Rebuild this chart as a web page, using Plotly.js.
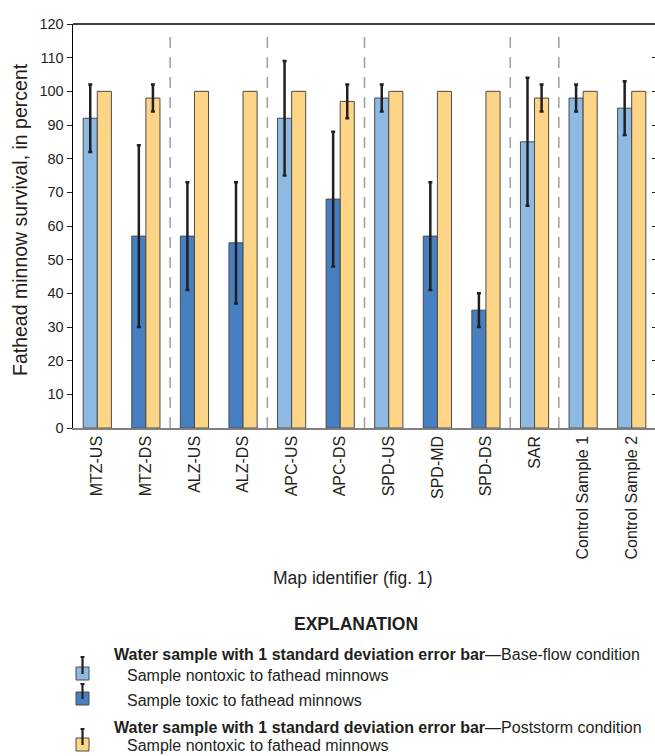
<!DOCTYPE html>
<html><head><meta charset="utf-8">
<script src="https://cdn.plot.ly/plotly-3.0.1.min.js"></script>
<style>html,body{margin:0;padding:0;overflow:hidden;background:#fff}#chart{width:658px;height:756px}</style>
</head><body><div id="chart"></div>
<script>
// ---- data ----
const categories = ["MTZ-US","MTZ-DS","ALZ-US","ALZ-DS","APC-US","APC-DS","SPD-US","SPD-MD","SPD-DS","SAR","Control Sample 1","Control Sample 2"];
const baseFlow = [92,57,57,55,92,68,98,57,35,85,98,95];
const baseFlowSD = [10,27,16,18,17,20,4,16,5,19,4,8];
const baseFlowToxic = [false,true,true,true,false,true,false,true,true,false,false,false];
const poststorm = [100,98,100,100,100,97,100,100,100,98,100,100];
const poststormSD = [null,4,null,null,null,5,null,null,null,4,null,null];
const siteGroupSizes = [2,2,2,3,1,2];
const yTickValues = [0,10,20,30,40,50,60,70,80,90,100,110,120];

// ---- styles ----
const FONT = '"Liberation Sans",Arial,sans-serif';
const LIGHT = '#8db9e2', DARK = '#4780c2', YELLOW = '#fed587', EDGE = '#4a4a4a', INK = '#231f20';
const PL = 73, PR = 656, PT = 24, PB = 428;
const px = x => (x - PL) / (PR - PL);
const py = y => (PB - y) / (PB - PT);

const traces = [
  {type:'bar', name:'Base-flow condition', x:categories, y:baseFlow,
   marker:{color: baseFlowToxic.map(t => t ? DARK : LIGHT), line:{color:EDGE, width:1}},
   error_y:{type:'data', array:baseFlowSD, color:INK, thickness:2.5, width:2}},
  {type:'bar', name:'Poststorm condition', x:categories, y:poststorm,
   marker:{color:YELLOW, line:{color:EDGE, width:1}},
   error_y:{type:'data', array:poststormSD.map(v => v === null ? NaN : v), color:INK, thickness:2.5, width:2}},
  // right-side mirrored inward ticks
  {type:'scatter', x:[categories[0]], y:[0], yaxis:'y2', mode:'markers', marker:{opacity:0}, hoverinfo:'skip', showlegend:false}
];

// separators between site groups
const shapes = [];
let idx = 0;
siteGroupSizes.slice(0, -1).forEach(n => {
  idx += n;
  shapes.push({type:'line', xref:'x', yref:'y', x0:idx - 0.5, x1:idx - 0.5, y0:0, y1:117.4,
    line:{color:'#a3a3a3', width:1.6, dash:'11px,9px'}, layer:'below'});
});
// top frame line
shapes.push({type:'line', xref:'paper', yref:'paper', x0:0, x1:1, y0:1, y1:1, line:{color:'#000', width:1.5}});

// legend icons
function icon(fill, top, sqTop) {
  shapes.push({type:'rect', xref:'paper', yref:'paper', x0:px(76), x1:px(89), y0:py(sqTop), y1:py(sqTop + 13),
    fillcolor:fill, line:{color:EDGE, width:1}});
  shapes.push({type:'line', xref:'paper', yref:'paper', x0:px(82.5), x1:px(82.5), y0:py(top), y1:py(sqTop + 7),
    line:{color:INK, width:2.2}});
  shapes.push({type:'line', xref:'paper', yref:'paper', x0:px(80.5), x1:px(84.5), y0:py(top), y1:py(top),
    line:{color:INK, width:2}});
}
icon(LIGHT, 657, 667);
icon(DARK, 684, 692);
icon(YELLOW, 729, 738);

const textFont = {family:FONT, size:16, color:'#231f20'};
const annotations = [
  {text:'Map identifier (fig. 1)', x:px(353), y:py(578), xref:'paper', yref:'paper', showarrow:false,
   xanchor:'center', yanchor:'middle', font:{family:FONT, size:17.5, color:'#231f20'}},
  {text:'Fathead minnow survival, in percent', x:px(20), y:py(220), xref:'paper', yref:'paper', showarrow:false,
   textangle:-90, xanchor:'center', yanchor:'middle', font:{family:FONT, size:19.5, color:'#231f20'}},
  {text:'<b>EXPLANATION</b>', x:px(356), y:py(624), xref:'paper', yref:'paper', showarrow:false,
   xanchor:'center', yanchor:'middle', font:{family:FONT, size:17.5, color:'#231f20'}},
  {text:'<b>Water sample with 1 standard deviation error bar</b>—Base-flow condition', x:px(112), y:py(654),
   xref:'paper', yref:'paper', showarrow:false, xanchor:'left', yanchor:'middle', font:textFont},
  {text:'Sample nontoxic to fathead minnows', x:px(125), y:py(675), xref:'paper', yref:'paper', showarrow:false,
   xanchor:'left', yanchor:'middle', font:textFont},
  {text:'Sample toxic to fathead minnows', x:px(125), y:py(700), xref:'paper', yref:'paper', showarrow:false,
   xanchor:'left', yanchor:'middle', font:textFont},
  {text:'<b>Water sample with 1 standard deviation error bar</b>—Poststorm condition', x:px(112), y:py(727),
   xref:'paper', yref:'paper', showarrow:false, xanchor:'left', yanchor:'middle', font:textFont},
  {text:'Sample nontoxic to fathead minnows', x:px(125), y:py(745), xref:'paper', yref:'paper', showarrow:false,
   xanchor:'left', yanchor:'middle', font:textFont}
];

const layout = {
  width:658, height:756,
  margin:{l:PL, r:658 - PR, t:PT, b:756 - PB, pad:0},
  paper_bgcolor:'#fff', plot_bgcolor:'#fff',
  showlegend:false,
  barmode:'group', bargap:0.42, bargroupgap:0,
  font:{family:FONT, color:'#231f20'},
  xaxis:{type:'category', range:[-0.5, categories.length - 0.5], tickangle:-90, ticks:'', showgrid:false,
    zeroline:false, showline:true, linecolor:'#808080', linewidth:1.5, tickfont:{family:FONT, size:16, color:'#231f20'},
    automargin:false, fixedrange:true},
  yaxis:{range:[0,120], tickvals:yTickValues, ticks:'outside', ticklen:5, tickwidth:1, tickcolor:'#231f20',
    showline:true, linecolor:'#000', linewidth:1.5, showgrid:false, zeroline:false,
    tickfont:{family:FONT, size:14.5, color:'#231f20'}, automargin:false, fixedrange:true},
  yaxis2:{overlaying:'y', side:'right', range:[0,120], tickvals:yTickValues, ticks:'inside', ticklen:4,
    tickwidth:1, tickcolor:'#231f20', showticklabels:false, showline:true, linecolor:'#000', linewidth:1.5,
    showgrid:false, zeroline:false, fixedrange:true},
  shapes:shapes,
  annotations:annotations
};

Plotly.newPlot('chart', traces, layout, {displayModeBar:false, staticPlot:true});
</script>
</body></html>
